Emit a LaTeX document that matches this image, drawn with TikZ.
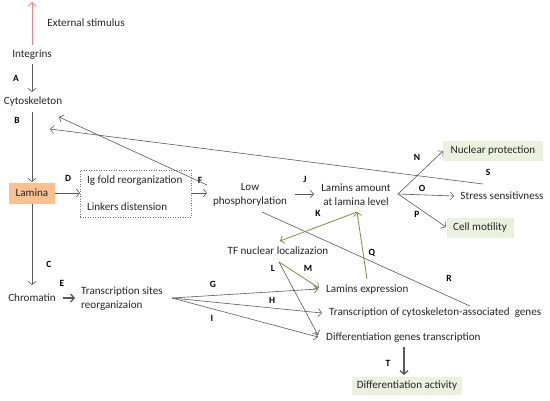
\documentclass[tikz,border=0pt]{standalone}
\usepackage{fontspec}
\setmainfont{Carlito}
\usetikzlibrary{arrows.meta}
\definecolor{ln}{HTML}{5A5A5A}
\definecolor{gr}{HTML}{76923C}
\definecolor{rd}{HTML}{FF7C80}
\definecolor{orfill}{HTML}{FAC090}
\definecolor{gnfill}{HTML}{EBF1DE}
\tikzset{
 txt/.style={font=\fontsize{11.1}{14}\selectfont, inner sep=0pt, text=black!85},
 lbl/.style={font=\fontsize{9.5}{10}\selectfont\bfseries, inner sep=0pt},
 arr/.style={draw=ln, line width=0.6pt, -{Straight Barb[length=3.5pt,width=8pt]}},
 plain/.style={draw=ln, line width=0.6pt},
 garr/.style={draw=gr, line width=0.8pt, -{Straight Barb[length=3.5pt,width=8pt]}},
 rarr/.style={draw=rd, line width=0.8pt, -{Straight Barb[length=3.5pt,width=8pt]}},
 thick arr/.style={draw=ln, line width=1.3pt, -{Straight Barb[length=3.5pt,width=8pt]}},
 gbox/.style={txt, fill=gnfill, minimum height=20pt},
}
\begin{document}
\begin{tikzpicture}[x=1pt,y=-1pt]
\useasboundingbox (0,0) rectangle (550,400);
% text nodes
\node[txt] (ext) at (86,23) {External stimulus};
\node[txt] (integ) at (32,55) {Integrins};
\node[txt] (cyto) at (33,102) {Cytoskeleton};
\node[txt, fill=orfill, minimum width=46pt, minimum height=21pt] (lamina) at (32,193) {Lamina};
\node[draw=black!55, dotted, line width=0.5pt, minimum width=111pt, minimum height=47pt, inner sep=0pt] (box) at (135.5,193.5) {};
\node[txt, anchor=west] (igf) at (87,181) {Ig fold reorganization};
\node[txt, anchor=west] (link) at (87,207) {Linkers distension};
\node[txt, align=center] (lowp) at (250,195) {Low\\phosphorylation};
\node[txt, align=center] (lam) at (356,195) {Lamins amount\\at lamina level};
\node[gbox, minimum width=100pt] (nuc) at (493,151) {Nuclear protection};
\node[txt] (stress) at (502,196) {Stress sensitivness};
\node[gbox, minimum width=67pt] (motil) at (480,228) {Cell motility};
\node[txt] (tf) at (278,251) {TF nuclear localizazion};
\node[txt] (chrom) at (32,298) {Chromatin};
\node[txt, align=left, anchor=west] (tsr) at (81,299) {Transcription sites\\reorganizaion};
\node[txt, anchor=west] (lexp) at (326,290) {Lamins expression};
\node[txt, anchor=west] (tcg) at (329,313) {Transcription of cytoskeleton-associated\ \ genes};
\node[txt, anchor=west] (dgt) at (326,338) {Differentiation genes transcription};
\node[gbox, minimum width=110pt, minimum height=18pt] (dact) at (407,386) {Differentiation activity};
% labels
\node[lbl] (lA) at (16,78) {A};
\node[lbl] (lB) at (17,120) {B};
\node[lbl] (lC) at (49,264) {C};
\node[lbl] (lD) at (68,178) {D};
\node[lbl] (lE) at (62,283) {E};
\node[lbl] (lF) at (200,180) {F};
\node[lbl] (lG) at (213,284) {G};
\node[lbl] (lH) at (272,300) {H};
\node[lbl] (lI) at (212,318) {I};
\node[lbl] (lJ) at (305,179) {J};
\node[lbl] (lK) at (318,213) {K};
\node[lbl] (lL) at (273,268) {L};
\node[lbl] (lM) at (308,268) {M};
\node[lbl] (lN) at (417,157) {N};
\node[lbl] (lO) at (422,188) {O};
\node[lbl] (lP) at (417,214) {P};
\node[lbl] (lQ) at (372,253) {Q};
\node[lbl] (lR) at (449,278) {R};
\node[lbl] (lS) at (488,172) {S};
\node[lbl] (lT) at (388,363) {T};
% connector end points
\coordinate (extS) at (32,45);
\coordinate (extT) at (32,2);
\coordinate (integB) at (32,64);
\coordinate (cytoT) at (32,92);
\coordinate (cytoB) at (32,112);
\coordinate (lamT) at (32,182);
\coordinate (lamB) at (32,203.5);
\coordinate (chromT) at (32,285);
\coordinate (lamR) at (55,193);
\coordinate (boxL) at (80,193);
\coordinate (boxR) at (191,193);
\coordinate (lowL) at (207,193);
\coordinate (lowR) at (295,194);
\coordinate (lamL) at (314,194);
\coordinate (fanN) at (398,194);
\coordinate (nucL) at (443,151);
\coordinate (stressL) at (454,196);
\coordinate (motL) at (446,227);
\coordinate (sEnd) at (483,184);
\coordinate (cytoS) at (50,129);
\coordinate (fEnd) at (207,185);
\coordinate (cytoF) at (59,117);
\coordinate (rStart) at (262,212);
\coordinate (rEnd) at (470,306);
\coordinate (lamBot) at (357,212);
\coordinate (tfR) at (280,241);
\coordinate (lexpT) at (367,279);
\coordinate (tfB) at (279,262);
\coordinate (lexpM) at (319,288);
\coordinate (dgtL) at (318,335);
\coordinate (fanT) at (172,298);
\coordinate (lexpG) at (318,289);
\coordinate (tcgH) at (322,313);
\coordinate (dgtI) at (318,337);
\coordinate (dgtB) at (404,347);
\coordinate (dactT) at (404,375);
\coordinate (chromR) at (63,298);
\coordinate (tsrL) at (75,298);
% connectors
\draw[rarr] (extS) -- (extT);
\draw[arr] (integB) -- (cytoT);
\draw[arr] (cytoB) -- (lamT);
\draw[arr] (lamB) -- (chromT);
\draw[arr] (lamR) -- (boxL);
\draw[arr] (boxR) -- (lowL);
\draw[arr] (lowR) -- (lamL);
\draw[arr] (fanN) -- (nucL);
\draw[arr] (fanN) -- (stressL);
\draw[arr] (fanN) -- (motL);
\draw[arr] (sEnd) -- (cytoS);
\draw[arr] (fEnd) -- (cytoF);
\draw[plain] (rStart) -- (rEnd);
\draw[garr] (lamBot) -- (tfR);
\draw[garr] (lexpT) -- (lamBot);
\draw[garr] (tfB) -- (lexpM);
\draw[arr] (tfB) -- (dgtL);
\draw[arr] (fanT) -- (lexpG);
\draw[arr] (fanT) -- (tcgH);
\draw[arr] (fanT) -- (dgtI);
\draw[thick arr] (dgtB) -- (dactT);
\draw[thick arr] (chromR) -- (tsrL);
\end{tikzpicture}
\end{document}
